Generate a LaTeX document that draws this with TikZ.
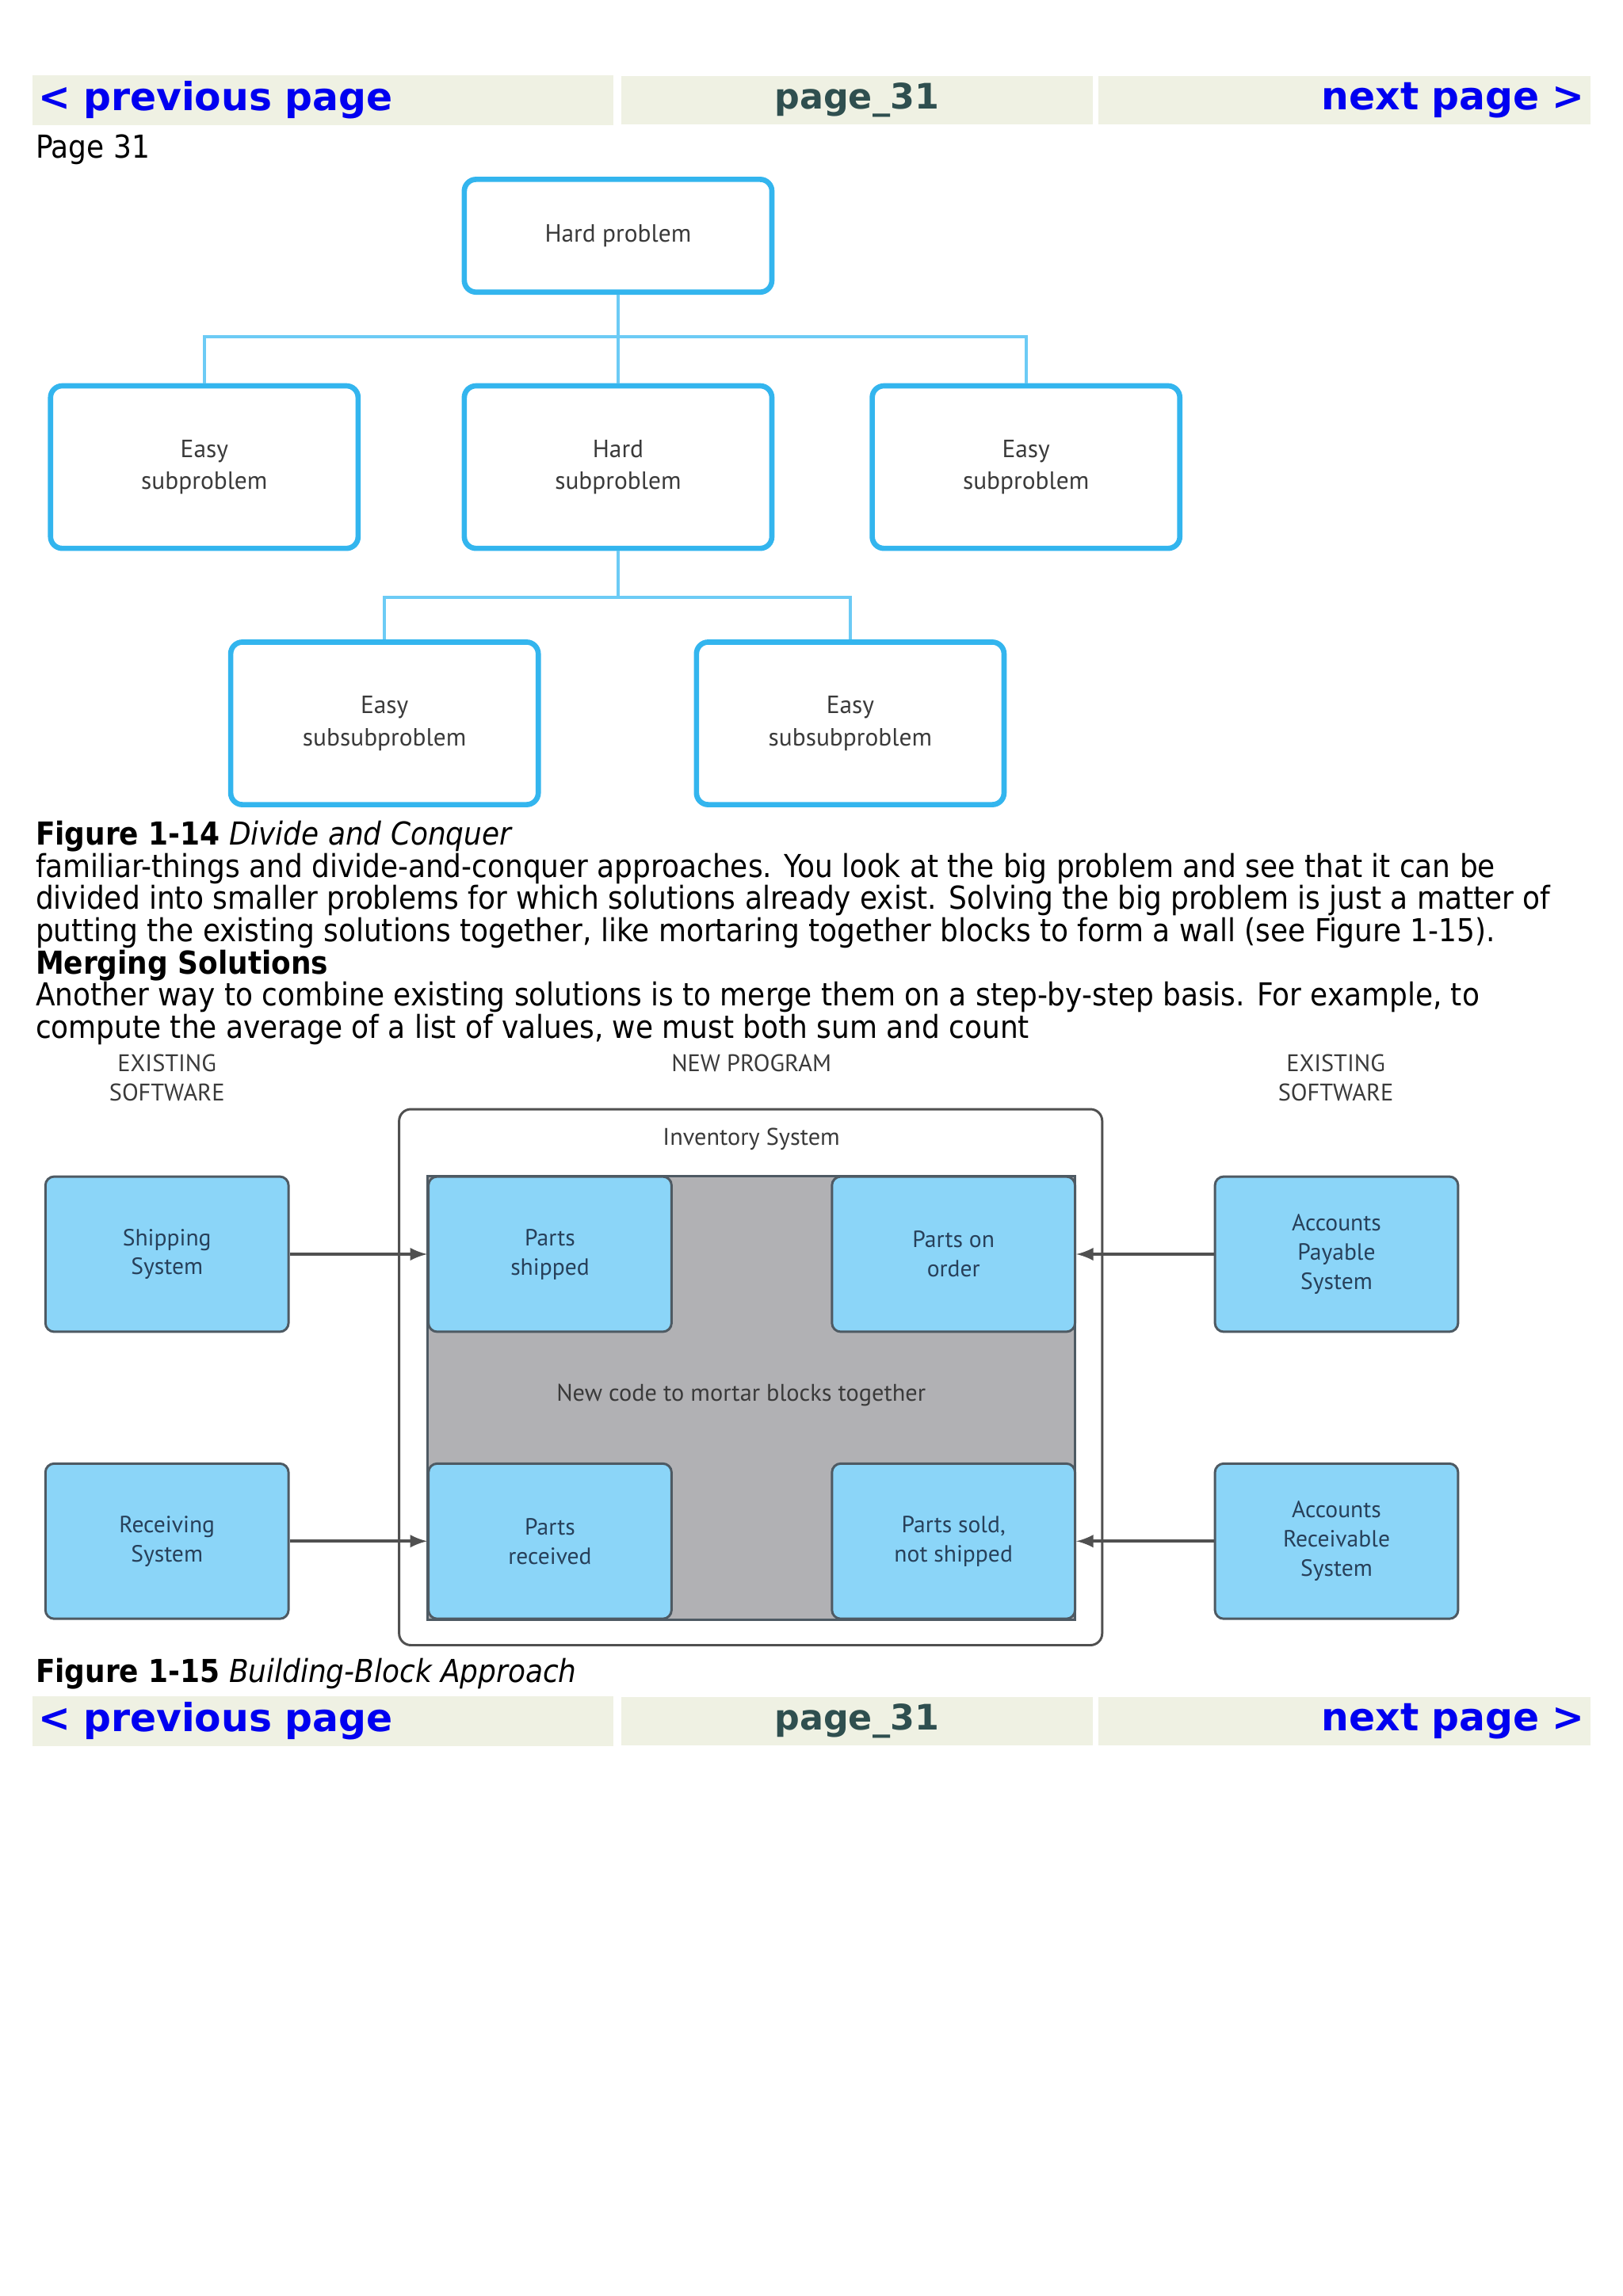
\documentclass[tikz,border=0pt]{standalone}
\usepackage{fontspec}
\setmainfont{DejaVu Sans Condensed}
\newfontfamily\navfont{DejaVu Sans}
\newfontfamily\figfont{PT Sans}
\usepackage{tikz}
\usetikzlibrary{positioning, arrows}
\definecolor{navbg}{HTML}{EFF1E3}
\definecolor{navblue}{HTML}{0000F0}
\definecolor{navgray}{HTML}{2F4F4F}
\definecolor{probblue}{HTML}{33B5EE}
\definecolor{treeblue}{HTML}{6CCBF5}
\definecolor{labelgray}{HTML}{3A3A3A}
\definecolor{blockblue}{HTML}{8BD5F8}
\definecolor{blockedge}{HTML}{4E5A63}
\definecolor{blocktext}{HTML}{27405A}
\definecolor{mortargray}{HTML}{B1B1B4}
\definecolor{edgegray}{HTML}{505050}
\tikzset{
navbar/.style={fill=navbg, minimum height=16.5pt, inner sep=2pt, font=\navfont\bfseries\fontsize{13.2}{15}\selectfont}, % the grey link bars
bodytext/.style={anchor=base west, inner sep=0pt, font=\fontsize{10.8}{13}\selectfont}, % one line of page text
probbox/.style={draw=probblue, line width=1.8pt, rounded corners=4pt, fill=white, minimum width=105pt, minimum height=55.5pt, align=center, text=labelgray, font=\figfont\fontsize{8.5}{11}\selectfont}, % boxes of figure 1-14
treeline/.style={draw=treeblue, line width=1pt}, % connectors of the tree
block/.style={draw=blockedge, line width=0.8pt, fill=blockblue, rounded corners=3pt, minimum width=83pt, minimum height=53pt, align=center, text=blocktext, font=\figfont\fontsize{8}{10}\selectfont}, % blocks of figure 1-15
headtext/.style={align=center, text=labelgray, font=\figfont\fontsize{8.2}{10}\selectfont},
feed/.style={-latex, draw=edgegray, line width=1pt}, % arrows into the program
}

\begin{document}
\begin{tikzpicture}[x=0.5pt, y=-0.5pt]
        \useasboundingbox[fill=white] (0,0) rectangle (1108,1568);

        % link bars, top
        \node[navbar, minimum width=198.5pt, text width=194.5pt, align=left, text=navblue] (navprev) at (220.5,68.5) {< previous page};
        \node[navbar, minimum width=161pt, text=navgray, font=\navfont\bfseries\fontsize{12}{15}\selectfont] (navmid) at (585,68.5) {page\_31};
        \node[navbar, minimum width=168pt, text width=164pt, align=right, text=navblue] (navnext) at (918,68.5) {next page >};

        \node[bodytext] (pagenum) at (24,108) {Page 31};

        % figure 1-14
        \node[probbox, minimum height=38.5pt] (hard) at (422,161) {Hard problem};
        \node[probbox] (easyA) at (139.5,319) {Easy\\subproblem};
        \node[probbox] (hardsub) at (422,319) {Hard\\subproblem};
        \node[probbox] (easyB) at (700.5,319) {Easy\\subproblem};
        \node[probbox] (subA) at (262.5,494) {Easy\\subsubproblem};
        \node[probbox] (subB) at (580.5,494) {Easy\\subsubproblem};

        \draw[treeline] (hard.south) -- (hard.south |- 0,230) coordinate (split1);
        \draw[treeline] (easyA.north) |- (split1) -| (easyB.north);
        \draw[treeline] (split1) -- (hardsub.north);
        \draw[treeline] (hardsub.south) -- (hardsub.south |- 0,408) coordinate (split2);
        \draw[treeline] (subA.north) |- (split2) -| (subB.north);

        \node[bodytext] (cap14) at (24,577) {\textbf{Figure 1-14} \textit{Divide and Conquer}};
        \node[bodytext] (line1) at (24,599) {familiar-things and divide-and-conquer approaches. You look at the big problem and see that it can be};
        \node[bodytext] (line2) at (24,621) {divided into smaller problems for which solutions already exist. Solving the big problem is just a matter of};
        \node[bodytext] (line3) at (24,643) {putting the existing solutions together, like mortaring together blocks to form a wall (see Figure 1-15).};
        \node[bodytext] (merging) at (24,665) {\textbf{Merging Solutions}};
        \node[bodytext] (line4) at (24,687) {Another way to combine existing solutions is to merge them on a step-by-step basis. For example, to};
        \node[bodytext] (line5) at (24,709) {compute the average of a list of values, we must both sum and count};

        % figure 1-15
        \node[headtext] (existL) at (114,736) {EXISTING\\SOFTWARE};
        \node[headtext] (newprog) at (513,726) {NEW PROGRAM};
        \node[headtext] (existR) at (912,736) {EXISTING\\SOFTWARE};

        \node[draw=edgegray, line width=0.8pt, rounded corners=4pt, minimum width=240pt, minimum height=183pt] (inventory) at (512.5,940.5) {};
        \node[headtext] (invlabel) at (513,778) {Inventory System};
        \node[draw=blockedge, line width=0.8pt, fill=mortargray, minimum width=221pt, minimum height=151.5pt] (mortar) at (513,954.5) {};
        \node[headtext] (mortarlabel) at (506,953) {New code to mortar blocks together};

        \node[block] (shipped) at (375.5,856.5) {Parts\\shipped};
        \node[block] (onorder) at (651,856.5) {Parts on\\order};
        \node[block] (received) at (375.5,1052.5) {Parts\\received};
        \node[block] (soldns) at (651,1052.5) {Parts sold,\\not shipped};

        \node[block] (shipping) at (114,856.5) {Shipping\\System};
        \node[block] (receiving) at (114,1052.5) {Receiving\\System};
        \node[block] (payable) at (912.5,856.5) {Accounts\\Payable\\System};
        \node[block] (receivable) at (912.5,1052.5) {Accounts\\Receivable\\System};

        \draw[feed] (shipping) -- (shipped);
        \draw[feed] (receiving) -- (received);
        \draw[feed] (payable) -- (onorder);
        \draw[feed] (receivable) -- (soldns);

        \node[bodytext] (cap15) at (24,1149) {\textbf{Figure 1-15} \textit{Building-Block Approach}};

        % link bars, bottom
        \node[navbar, minimum width=198.5pt, text width=194.5pt, align=left, text=navblue] (navprevB) at (220.5,1175.5) {< previous page};
        \node[navbar, minimum width=161pt, text=navgray, font=\navfont\bfseries\fontsize{12}{15}\selectfont] (navmidB) at (585,1175.5) {page\_31};
        \node[navbar, minimum width=168pt, text width=164pt, align=right, text=navblue] (navnextB) at (918,1175.5) {next page >};

    \end{tikzpicture}
\end{document}
